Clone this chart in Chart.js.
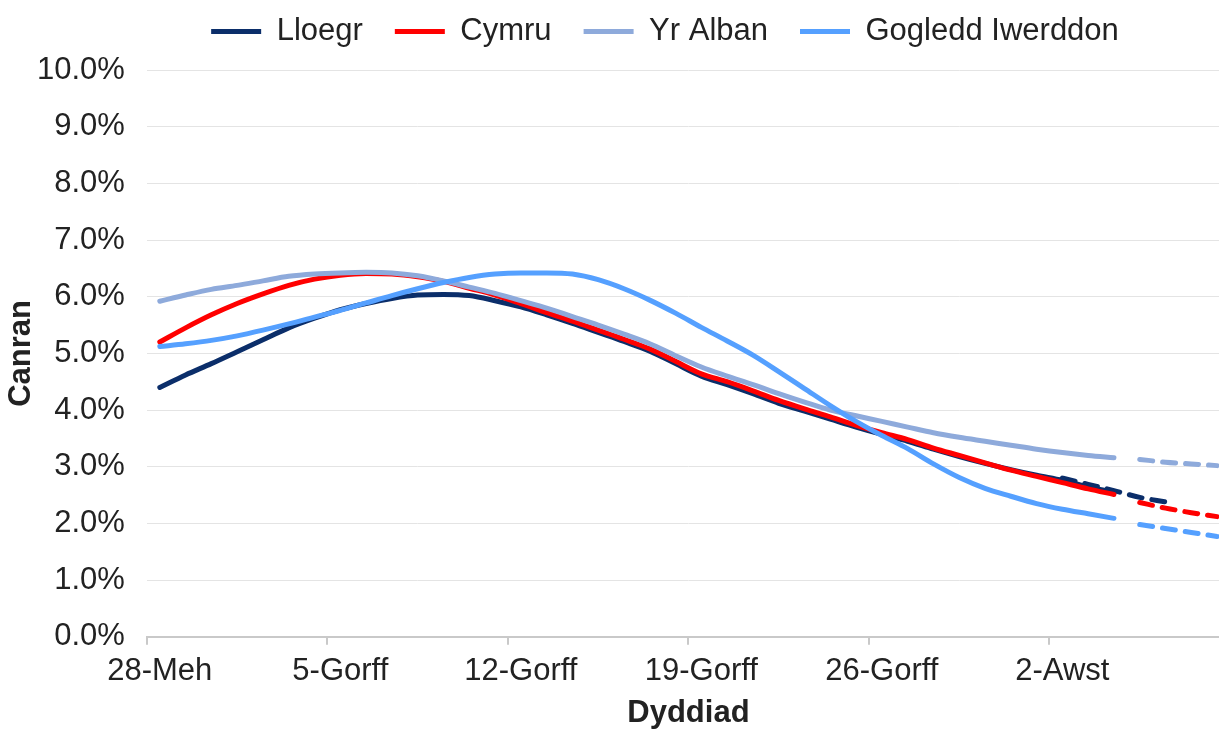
<!DOCTYPE html>
<html>
<head>
<meta charset="utf-8">
<script src="https://cdn.jsdelivr.net/npm/chart.js@4.4.1/dist/chart.umd.min.js"></script>
<style>
body{margin:0;overflow:hidden;background:#fff}
#wrap{width:1230px;height:729px}
</style>
</head>
<body>
<div id="wrap"><canvas id="lineChart"></canvas></div>
<script>

const dates = ["28-Meh","29-Meh","30-Meh",
"1-Gorff","2-Gorff","3-Gorff","4-Gorff","5-Gorff","6-Gorff","7-Gorff","8-Gorff","9-Gorff","10-Gorff",
"11-Gorff","12-Gorff","13-Gorff","14-Gorff","15-Gorff","16-Gorff","17-Gorff","18-Gorff","19-Gorff","20-Gorff",
"21-Gorff","22-Gorff","23-Gorff","24-Gorff","25-Gorff","26-Gorff","27-Gorff","28-Gorff","29-Gorff","30-Gorff","31-Gorff",
"1-Awst","2-Awst","3-Awst","4-Awst","5-Awst","6-Awst","7-Awst","8-Awst"]

// canran dyddiol (%), 28-Meh i 4-Awst
const lloegr = [4.40,4.62,4.82,5.03,5.24,5.45,5.62,5.77,5.88,5.97,6.03,6.04,6.02,5.93,5.82,5.68,5.53,5.37,5.21,5.04,4.82,4.60,4.45,4.29,4.12,3.98,3.84,3.70,3.57,3.45,3.31,3.18,3.06,2.95,2.85,2.76,2.65,2.55]
const cymru = [5.20,5.45,5.68,5.88,6.05,6.20,6.31,6.38,6.41,6.40,6.35,6.27,6.15,6.03,5.88,5.72,5.57,5.41,5.25,5.08,4.86,4.64,4.50,4.34,4.17,4.02,3.88,3.73,3.60,3.48,3.33,3.20,3.07,2.94,2.83,2.72,2.61,2.51]
const alban = [5.92,6.03,6.13,6.20,6.28,6.36,6.40,6.42,6.43,6.42,6.37,6.28,6.17,6.06,5.93,5.80,5.65,5.50,5.34,5.17,4.96,4.76,4.60,4.45,4.29,4.14,4.00,3.90,3.80,3.70,3.60,3.52,3.45,3.38,3.31,3.25,3.20,3.16]
const gogledd = [5.12,5.17,5.23,5.31,5.41,5.52,5.64,5.76,5.89,6.02,6.14,6.25,6.34,6.40,6.42,6.42,6.40,6.30,6.14,5.94,5.71,5.46,5.22,4.97,4.68,4.38,4.08,3.80,3.55,3.32,3.05,2.81,2.62,2.48,2.35,2.25,2.17,2.09]

// rhagolwg (llinell doredig)
const lloegrRhag = [2.80,2.69,2.58,2.46,2.38]   // o 2-Awst
const cymruRhag = [2.37,2.27,2.19,2.12]         // o 5-Awst
const albanRhag = [3.13,3.08,3.05,3.02]
const gogleddRhag = [1.98,1.91,1.84,1.77]

const yTicks = [0,1,2,3,4,5,6,7,8,9,10]

function startAt(index, values){
return Array(index).fill(null).concat(values)
}

const colours = {lloegr:"#0b2e6a", cymru:"#ff0000", alban:"#8eaadb", gogledd:"#55a0ff"}

function solid(label, data, colour, order){
return {label:label, data:data, borderColor:colour, backgroundColor:colour,
borderWidth:5, pointRadius:0, borderCapStyle:"round", cubicInterpolationMode:"monotone", order:order}
}

function dashed(label, data, colour, order){
return {label:label, data:data, borderColor:colour, backgroundColor:colour,
borderWidth:5, pointRadius:0, borderCapStyle:"round", borderDash:[13,10], cubicInterpolationMode:"monotone", order:order}
}

// legend sits higher and a bit to the right in the original
const moveLegend = {
id:"moveLegend",
afterLayout(chart){
chart.legend.left += 50
chart.legend.right += 50
chart.legend.top -= 16
}
}

Chart.defaults.font.family = "'Liberation Sans', Arial, sans-serif"
Chart.defaults.font.size = 31
Chart.defaults.color = "#222"

new Chart(document.getElementById("lineChart"),{

type:"line",

data:{
labels:dates,
datasets:[
solid("Lloegr", lloegr, colours.lloegr, 4),
solid("Cymru", cymru, colours.cymru, 3),
solid("Yr Alban", alban, colours.alban, 2),
solid("Gogledd Iwerddon", gogledd, colours.gogledd, 1),
dashed("Lloegr rhag", startAt(35, lloegrRhag), colours.lloegr, 4),
dashed("Cymru rhag", startAt(38, cymruRhag), colours.cymru, 3),
dashed("Yr Alban rhag", startAt(38, albanRhag), colours.alban, 2),
dashed("Gogledd Iwerddon rhag", startAt(38, gogleddRhag), colours.gogledd, 1)
]
},

options:{
responsive:true,
maintainAspectRatio:false,
animation:false,
layout:{padding:{left:0,top:0,right:0,bottom:0}},
plugins:{
legend:{
maxHeight:70,
labels:{
usePointStyle:true,
pointStyle:"line",
pointStyleWidth:50,
padding:32,
filter:(item)=>item.datasetIndex<4,
sort:(a,b)=>a.datasetIndex-b.datasetIndex
}
},
tooltip:{enabled:false}
},
scales:{
x:{
offset:true,
grid:{
offset:true,
drawOnChartArea:false,
tickLength:8,
lineWidth:2,
tickColor:(ctx)=>ctx.index%7===0?"#c9c9c9":"rgba(0,0,0,0)"
},
border:{color:"#c9c9c9",width:2},
ticks:{autoSkip:false,maxRotation:0,padding:8,
callback:(v,i)=>i%7===0?dates[i]:""},
title:{display:true,text:"Dyddiad",font:{weight:"bold",lineHeight:1},padding:{top:0,bottom:0}}
},
y:{
min:yTicks[0],
max:yTicks[yTicks.length-1],
afterBuildTicks:(axis)=>{axis.ticks=yTicks.map(v=>({value:v}))},
ticks:{padding:0,callback:(v)=>v.toFixed(1)+"%"},
grid:{color:"#e4e4e4",tickLength:22,tickColor:"rgba(0,0,0,0)"},
border:{display:false},
title:{display:true,text:"Canran",font:{weight:"bold",lineHeight:1},padding:{top:6,bottom:0}}
}
}
},

plugins:[moveLegend]

})

</script>
</body>
</html>
